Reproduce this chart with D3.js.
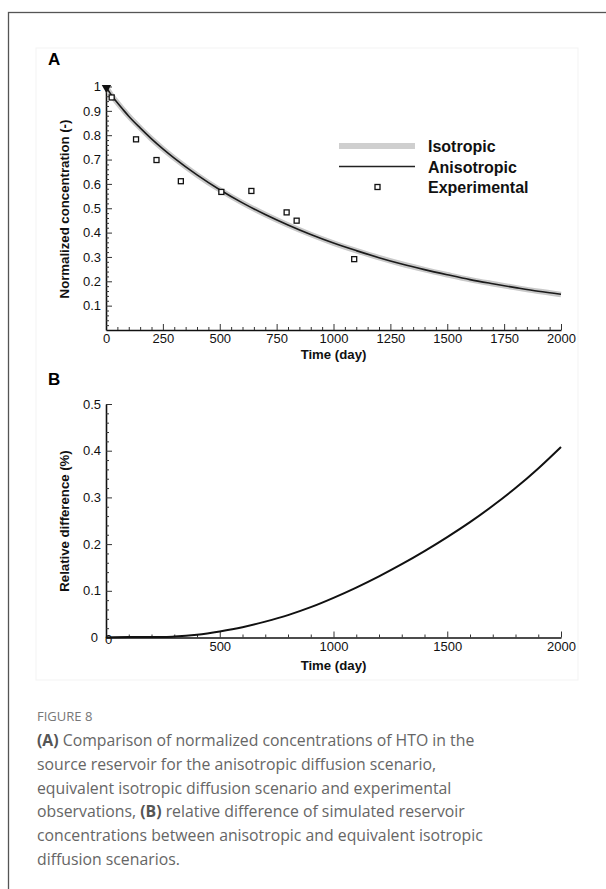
<!DOCTYPE html>
<html>
<head>
<meta charset="utf-8">
<script src="https://cdn.jsdelivr.net/npm/d3@7/dist/d3.min.js"></script>
<style>
  body { margin: 0; background: #fff; }
  svg { display: block; }
</style>
</head>
<body>
<svg id="fig" width="606" height="889"></svg>
<script>
// ---- panel A data ----
var days = [0,10,25,50,75,100,150,200,250,300,400,500,600,700,800,900,1000,1100,1200,1300,1400,1500,1600,1700,1800,1900,2000]
var aniso = [1.0,0.984,0.963,0.933,0.905,0.878,0.830,0.785,0.744,0.706,0.637,0.576,0.522,0.474,0.431,0.392,0.357,0.326,0.297,0.271,0.248,0.227,0.207,0.190,0.174,0.159,0.147]
var iso   = [1.0,0.984,0.963,0.933,0.905,0.878,0.830,0.785,0.744,0.706,0.637,0.576,0.522,0.474,0.431,0.392,0.357,0.326,0.297,0.271,0.248,0.227,0.207,0.190,0.174,0.159,0.146]
var expDays = [25,132,222,329,507,639,794,838,1091]
var expConc = [0.955,0.783,0.698,0.611,0.567,0.571,0.483,0.449,0.291]
var startDay = [2]
var startConc = [0.995]
var xTicksA = [0,250,500,750,1000,1250,1500,1750,2000]
var yTicksA = [0.1,0.2,0.3,0.4,0.5,0.6,0.7,0.8,0.9,1]
var legendLabels = ["Isotropic","Anisotropic","Experimental"]

// ---- panel B data ----
var daysB = [0,100,200,250,300,400,500,600,700,800,900,1000,1100,1200,1300,1400,1500,1600,1700,1800,1900,2000]
var relDiff = [0,0.001,0.001,0.001,0.002,0.006,0.013,0.022,0.034,0.048,0.065,0.085,0.107,0.131,0.157,0.185,0.215,0.247,0.282,0.320,0.362,0.408]
var xTicksB = [0,500,1000,1500,2000]
var yTicksB = [0,0.1,0.2,0.3,0.4,0.5]

var caption = [
  [["(A)",true],[" Comparison of normalized concentrations of HTO in the",false]],
  [["source reservoir for the anisotropic diffusion scenario,",false]],
  [["equivalent isotropic diffusion scenario and experimental",false]],
  [["observations, ",false],["(B)",true],[" relative difference of simulated reservoir",false]],
  [["concentrations between anisotropic and equivalent isotropic",false]],
  [["diffusion scenarios.",false]]
]

var svg = d3.select("#fig")
var font = "'Liberation Sans', Arial, sans-serif"

// outer frame
svg.append("rect").attr("x",8.5).attr("y",12.5).attr("width",640).attr("height",900)
  .attr("fill","none").attr("stroke","#555").attr("stroke-width",1.3)
// faint image box
svg.append("rect").attr("x",36).attr("y",48).attr("width",542).attr("height",632)
  .attr("fill","none").attr("stroke","#f3f3f3").attr("stroke-width",1)

function drawAxes(g, x, y, xt, yt, xminor, yminor, yfmt){
  var h = y.range()[0]
  var xa = g.append("g").attr("transform","translate(0,"+h+")")
    .call(d3.axisBottom(x).tickValues(xt).tickSize(-6).tickSizeOuter(0).tickPadding(4).tickFormat(d3.format("d")))
  g.append("g").attr("transform","translate(0,"+h+")")
    .call(d3.axisBottom(x).tickValues(xminor).tickSize(-3).tickFormat(""))
    .select(".domain").remove()
  var ya = g.append("g").attr("transform","translate("+x.range()[0]+",0)")
    .call(d3.axisLeft(y).tickValues(yt).tickSize(-6).tickSizeOuter(0).tickPadding(5).tickFormat(yfmt))
  g.append("g").attr("transform","translate("+x.range()[0]+",0)")
    .call(d3.axisLeft(y).tickValues(yminor).tickSize(-3).tickFormat(""))
    .select(".domain").remove()
  xa.attr("font-size",13).attr("font-family",font)
  ya.attr("font-size",13).attr("font-family",font)
  g.selectAll(".domain").attr("stroke","#111").attr("stroke-width",1.6)
  g.selectAll(".tick line").attr("stroke","#333").attr("stroke-width",1)
  g.selectAll(".tick text").style("font-size","13px").style("font-family",font).attr("fill","#111")
  return [xa, ya]
}

// ================= panel A =================
var gA = svg.append("g")
var xA = d3.scaleLinear().domain([0,2000]).range([106,561])
var yA = d3.scaleLinear().domain([0,1]).range([330,86.5])

svg.append("text").attr("x",48).attr("y",65).attr("font-family",font).attr("font-weight","bold")
  .attr("font-size",17).text("A")

var minorXA = d3.range(0,2001,50).filter(function(d){ return d%250 })
var minorYA = d3.range(0,101,2).map(function(d){ return d/100 }).filter(function(d){ return Math.round(d*100)%10 })
drawAxes(gA, xA, yA, xTicksA, yTicksA, minorXA, minorYA, function(d){ return d==1 ? "1" : d3.format(".1f")(d) })

gA.append("text").attr("transform","translate(69,209) rotate(-90)").attr("text-anchor","middle")
  .attr("font-family",font).attr("font-weight","bold").attr("font-size",13.2).attr("fill","#111")
  .text("Normalized concentration (-)")
gA.append("text").attr("x",333.5).attr("y",359).attr("text-anchor","middle")
  .attr("font-family",font).attr("font-weight","bold").attr("font-size",13.2).attr("fill","#111")
  .text("Time (day)")

var lineA = d3.line().x(function(d){ return xA(d[0]) }).y(function(d){ return yA(d[1]) }).curve(d3.curveMonotoneX)
gA.append("path").datum(d3.zip(days, iso)).attr("d", lineA)
  .attr("fill","none").attr("stroke","#c9c9c9").attr("stroke-width",5.5)
gA.append("path").datum(d3.zip(days, aniso)).attr("d", lineA)
  .attr("fill","none").attr("stroke","#1a1a1a").attr("stroke-width",1.6)

gA.append("g").selectAll("rect").data(d3.zip(expDays, expConc)).enter().append("rect")
  .attr("x", function(d){ return xA(d[0]) - 2.5 })
  .attr("y", function(d){ return yA(d[1]) - 2.5 })
  .attr("width",5).attr("height",5)
  .attr("fill","#fff").attr("stroke","#111").attr("stroke-width",1.3)

gA.append("g").selectAll("path").data(d3.zip(startDay, startConc)).enter().append("path")
  .attr("transform", function(d){ return "translate("+xA(d[0])+","+yA(d[1])+") rotate(180)" })
  .attr("d", d3.symbol().type(d3.symbolTriangle).size(38))
  .attr("fill","#111")

// legend
var leg = gA.append("g").attr("transform","translate(339,146)")
leg.append("line").attr("x1",0).attr("x2",76).attr("y1",0).attr("y2",0)
  .attr("stroke","#cfcfcf").attr("stroke-width",6)
leg.append("line").attr("x1",0).attr("x2",76).attr("y1",20.5).attr("y2",20.5)
  .attr("stroke","#222").attr("stroke-width",1.6)
leg.append("rect").attr("x",36).attr("y",38.5).attr("width",5).attr("height",5)
  .attr("fill","#fff").attr("stroke","#111").attr("stroke-width",1.3)
leg.selectAll("text.lg").data(legendLabels).enter().append("text").attr("class","lg")
  .attr("x",89).attr("y",function(d,i){ return 6 + i*20.5 })
  .attr("font-family",font).attr("font-weight","bold").attr("font-size",16).attr("fill","#111")
  .text(function(d){ return d })

// ================= panel B =================
var gB = svg.append("g")
var xB = d3.scaleLinear().domain([0,2000]).range([106,561])
var yB = d3.scaleLinear().domain([0,0.5]).range([637.5,404])

svg.append("text").attr("x",48).attr("y",385).attr("font-family",font).attr("font-weight","bold")
  .attr("font-size",17).text("B")

var minorXB = d3.range(0,2001,100).filter(function(d){ return d%500 })
var minorYB = d3.range(0,51,2).map(function(d){ return d/100 }).filter(function(d){ return Math.round(d*100)%10 })
var axB = drawAxes(gB, xB, yB, xTicksB, yTicksB, minorXB, minorYB, function(d){ return d==0 ? "0" : d3.format(".1f")(d) })
// the two zero labels sit slightly apart
axB[0].selectAll(".tick text").filter(function(d){ return d==0 }).attr("dx",2).attr("dy",2)
axB[1].selectAll(".tick text").filter(function(d){ return d==0 }).attr("dx",-3)

gB.append("text").attr("transform","translate(69,521) rotate(-90)").attr("text-anchor","middle")
  .attr("font-family",font).attr("font-weight","bold").attr("font-size",13.2).attr("fill","#111")
  .text("Relative difference (%)")
gB.append("text").attr("x",333.5).attr("y",670).attr("text-anchor","middle")
  .attr("font-family",font).attr("font-weight","bold").attr("font-size",13.2).attr("fill","#111")
  .text("Time (day)")

var lineB = d3.line().x(function(d){ return xB(d[0]) }).y(function(d){ return yB(d[1]) }).curve(d3.curveMonotoneX)
gB.append("path").datum(d3.zip(daysB, relDiff)).attr("d", lineB)
  .attr("fill","none").attr("stroke","#111").attr("stroke-width",2)

// ================= caption =================
svg.append("text").attr("x",37).attr("y",721).attr("font-family","'Open Sans', sans-serif")
  .attr("font-size",13).attr("fill","#777").text("FIGURE 8")

var cap = svg.append("g")
caption.forEach(function(line, i){
  var t = cap.append("text").attr("x",37).attr("y",746 + i*23.8)
    .attr("font-family","'Open Sans', sans-serif").attr("font-size",15.8).attr("fill","#666")
  line.forEach(function(seg){
    t.append("tspan").attr("font-weight", seg[1] ? "bold" : "normal")
      .attr("fill", seg[1] ? "#555" : "#666").text(seg[0])
  })
})
</script>
</body>
</html>
